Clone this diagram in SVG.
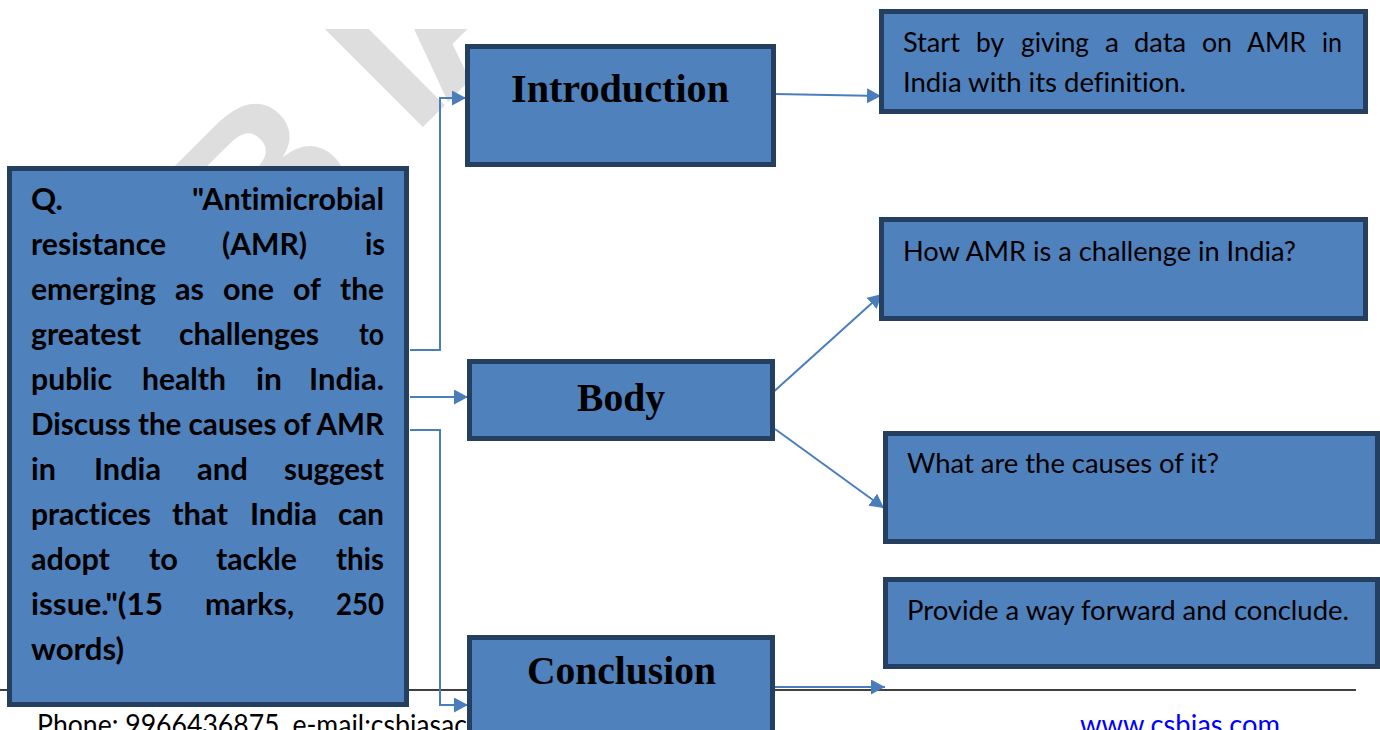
<svg xmlns="http://www.w3.org/2000/svg" width="1380" height="730" viewBox="0 0 1380 730">
<style>
text{font-variant-ligatures:none;font-feature-settings:"liga" 0,"clig" 0}
.box{fill:#4f81bd;stroke:#243f60;stroke-width:5}
.hd{font-family:"Liberation Serif",serif;font-weight:bold;font-size:39px;fill:#000}
.q{font-family:Lato,"Liberation Sans",sans-serif;font-weight:bold;font-size:30px;fill:#000}
.t{font-family:Lato,"Liberation Sans",sans-serif;font-size:26px;fill:#000}
.con{fill:none;stroke:#4a7ebb;stroke-width:2}
.wm{font-family:"Liberation Sans",sans-serif;font-weight:bold;font-size:215px;fill:#dedede}
</style>
<defs>
<marker id="ah" markerUnits="userSpaceOnUse" markerWidth="16" markerHeight="16" refX="14" refY="7.5" orient="auto">
<path d="M0,0 L14,7.5 L0,15 Z" fill="#4a7ebb"/>
</marker>
<clipPath id="wmclip"><rect x="7" y="29" width="1373" height="701"/></clipPath>
</defs>

<g id="watermark" clip-path="url(#wmclip)">
<text class="wm" transform="translate(49.5,500.5) rotate(-45)">CSB I<tspan dx="-15">AS</tspan></text>
</g>

<g id="footer">
<line x1="0" y1="690" x2="1356" y2="690" stroke="#000" stroke-width="1.5"/>
<text class="t" x="37" y="735" textLength="430" lengthAdjust="spacingAndGlyphs" style="font-size:28px">Phone: 9966436875, e-mail:csbiasac</text>
<text class="t" x="1080" y="735" textLength="200" lengthAdjust="spacingAndGlyphs" style="font-size:28px;fill:#0000ff">www.csbias.com</text>
</g>

<g id="connectors">
<path class="con" d="M410,350 H440 V98 H466" marker-end="url(#ah)"/>
<path class="con" d="M410,397 H468" marker-end="url(#ah)"/>
<path class="con" d="M410,430 H440 V705 H468" marker-end="url(#ah)"/>
<path class="con" d="M775,94 L881,96" marker-end="url(#ah)"/>
<path class="con" d="M770,395 L882,294" marker-end="url(#ah)"/>
<path class="con" d="M775,429 L884,508" marker-end="url(#ah)"/>
<path class="con" d="M775,687 L885,687" marker-end="url(#ah)"/>
</g>

<g id="question">
<rect class="box" x="9.5" y="168.5" width="397" height="536"/>
<text class="q" x="31" y="210" textLength="32" lengthAdjust="spacingAndGlyphs">Q.</text>
<text class="q" x="192" y="210" textLength="192" lengthAdjust="spacingAndGlyphs">"Antimicrobial</text>
<text class="q" x="31" y="255" textLength="135" lengthAdjust="spacingAndGlyphs">resistance</text>
<text class="q" x="222" y="255" textLength="85" lengthAdjust="spacingAndGlyphs">(AMR)</text>
<text class="q" x="365" y="255" textLength="20" lengthAdjust="spacingAndGlyphs">is</text>
<text class="q" x="31" y="300" textLength="125" lengthAdjust="spacingAndGlyphs">emerging</text>
<text class="q" x="175" y="300" textLength="29" lengthAdjust="spacingAndGlyphs">as</text>
<text class="q" x="223" y="300" textLength="51" lengthAdjust="spacingAndGlyphs">one</text>
<text class="q" x="293" y="300" textLength="28" lengthAdjust="spacingAndGlyphs">of</text>
<text class="q" x="340" y="300" textLength="44" lengthAdjust="spacingAndGlyphs">the</text>
<text class="q" x="31" y="345" textLength="110" lengthAdjust="spacingAndGlyphs">greatest</text>
<text class="q" x="179" y="345" textLength="140" lengthAdjust="spacingAndGlyphs">challenges</text>
<text class="q" x="359" y="345" textLength="25" lengthAdjust="spacingAndGlyphs">to</text>
<text class="q" x="31" y="390" textLength="81" lengthAdjust="spacingAndGlyphs">public</text>
<text class="q" x="142" y="390" textLength="84" lengthAdjust="spacingAndGlyphs">health</text>
<text class="q" x="256" y="390" textLength="26" lengthAdjust="spacingAndGlyphs">in</text>
<text class="q" x="309" y="390" textLength="75" lengthAdjust="spacingAndGlyphs">India.</text>
<text class="q" x="31" y="435" textLength="353" lengthAdjust="spacingAndGlyphs">Discuss the causes of AMR</text>
<text class="q" x="31" y="480" textLength="25" lengthAdjust="spacingAndGlyphs">in</text>
<text class="q" x="94" y="480" textLength="67" lengthAdjust="spacingAndGlyphs">India</text>
<text class="q" x="197" y="480" textLength="51" lengthAdjust="spacingAndGlyphs">and</text>
<text class="q" x="284" y="480" textLength="100" lengthAdjust="spacingAndGlyphs">suggest</text>
<text class="q" x="31" y="525" textLength="120" lengthAdjust="spacingAndGlyphs">practices</text>
<text class="q" x="172" y="525" textLength="56" lengthAdjust="spacingAndGlyphs">that</text>
<text class="q" x="250" y="525" textLength="67" lengthAdjust="spacingAndGlyphs">India</text>
<text class="q" x="338" y="525" textLength="46" lengthAdjust="spacingAndGlyphs">can</text>
<text class="q" x="31" y="570" textLength="79" lengthAdjust="spacingAndGlyphs">adopt</text>
<text class="q" x="149" y="570" textLength="29" lengthAdjust="spacingAndGlyphs">to</text>
<text class="q" x="216" y="570" textLength="81" lengthAdjust="spacingAndGlyphs">tackle</text>
<text class="q" x="336" y="570" textLength="48" lengthAdjust="spacingAndGlyphs">this</text>
<text class="q" x="31" y="615" textLength="132" lengthAdjust="spacingAndGlyphs">issue."(15</text>
<text class="q" x="205" y="615" textLength="89" lengthAdjust="spacingAndGlyphs">marks,</text>
<text class="q" x="336" y="615" textLength="48" lengthAdjust="spacingAndGlyphs">250</text>
<text class="q" x="31" y="660" textLength="93" lengthAdjust="spacingAndGlyphs">words)</text>
</g>

<g id="introduction">
<rect class="box" x="467.5" y="46.5" width="306" height="118"/>
<text class="hd" x="511" y="102" textLength="218" lengthAdjust="spacingAndGlyphs">Introduction</text>
</g>

<g id="body">
<rect class="box" x="469.5" y="361.5" width="303" height="77"/>
<text class="hd" x="577" y="411" textLength="88" lengthAdjust="spacingAndGlyphs">Body</text>
</g>

<g id="conclusion">
<rect class="box" x="469.5" y="637.5" width="303" height="100"/>
<text class="hd" x="527" y="684" textLength="189" lengthAdjust="spacingAndGlyphs">Conclusion</text>
</g>

<g id="intro-note">
<rect class="box" x="881.5" y="11.5" width="484" height="100"/>
<text class="t" x="903" y="52" textLength="57" lengthAdjust="spacingAndGlyphs">Start</text>
<text class="t" x="976" y="52" textLength="28" lengthAdjust="spacingAndGlyphs">by</text>
<text class="t" x="1021" y="52" textLength="68" lengthAdjust="spacingAndGlyphs">giving</text>
<text class="t" x="1105" y="52" textLength="14" lengthAdjust="spacingAndGlyphs">a</text>
<text class="t" x="1134" y="52" textLength="52" lengthAdjust="spacingAndGlyphs">data</text>
<text class="t" x="1202" y="52" textLength="30" lengthAdjust="spacingAndGlyphs">on</text>
<text class="t" x="1247" y="52" textLength="59" lengthAdjust="spacingAndGlyphs">AMR</text>
<text class="t" x="1322" y="52" textLength="20" lengthAdjust="spacingAndGlyphs">in</text>
<text class="t" x="903" y="92" textLength="283" lengthAdjust="spacingAndGlyphs">India with its definition.</text>
</g>

<g id="body-note-1">
<rect class="box" x="881.5" y="219.5" width="484" height="99"/>
<text class="t" x="903" y="261" textLength="393" lengthAdjust="spacingAndGlyphs">How AMR is a challenge in India?</text>
</g>

<g id="body-note-2">
<rect class="box" x="885.5" y="433.5" width="492" height="108"/>
<text class="t" x="907" y="473" textLength="312" lengthAdjust="spacingAndGlyphs">What are the causes of it?</text>
</g>

<g id="conclusion-note">
<rect class="box" x="885.5" y="579.5" width="492" height="87"/>
<text class="t" x="907" y="620" textLength="442" lengthAdjust="spacingAndGlyphs">Provide a way forward and conclude.</text>
</g>
</svg>
